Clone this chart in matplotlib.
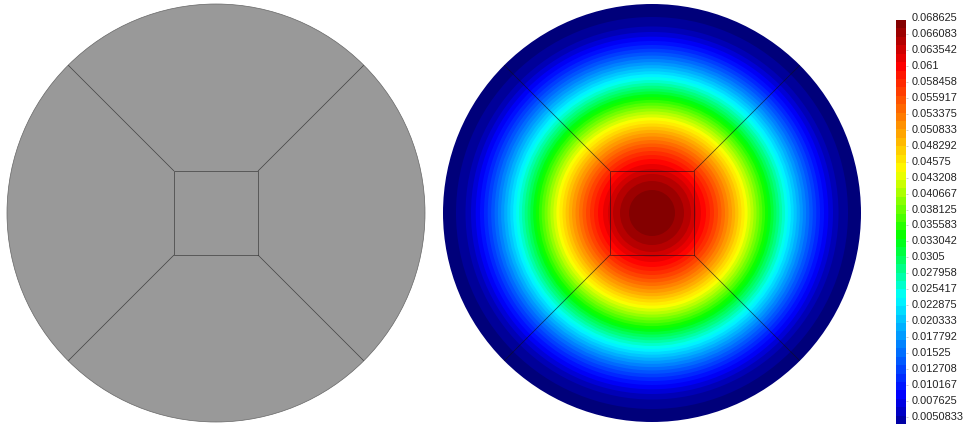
import numpy as np
import matplotlib
matplotlib.use("Agg")
import matplotlib.pyplot as plt
from matplotlib.patches import Circle, Rectangle
from matplotlib.colors import LinearSegmentedColormap

plt.rcParams['font.family'] = ['Liberation Sans', 'DejaVu Sans']

# Outer radius (in pixels of the reference) of each colour band, centre to rim
band_radii = [23, 32, 39, 44, 49, 54, 58, 62, 66, 69.5, 73, 76.5, 80, 83.2, 86.4, 89.5,
              92.6, 95.6, 98.6, 101.6, 104.5, 107.4, 110.3, 113.1, 116, 118.8, 121.6,
              124.4, 127.3, 130.1, 133, 135.9, 138.8, 141.7, 144.7, 147.8, 150.9, 154.1,
              157.4, 160.8, 164.3, 168, 172, 176.3, 181, 186.5, 196, 209]
tick_labels = ['0.068625', '0.066083', '0.063542', '0.061', '0.058458', '0.055917',
               '0.053375', '0.050833', '0.048292', '0.04575', '0.043208', '0.040667',
               '0.038125', '0.035583', '0.033042', '0.0305', '0.027958', '0.025417',
               '0.022875', '0.020333', '0.017792', '0.01525', '0.012708', '0.010167',
               '0.007625', '0.0050833']
peak_value = 0.068625
bar_floor = 0.0021
palette = [(0.00, (0, 0, 0.42)), (0.10, (0, 0, 1)), (0.335, (0, 1, 1)), (0.48, (0, 1, 0)),
           (0.64, (1, 1, 0)), (0.89, (1, 0, 0)), (1.00, (0.47, 0, 0))]

W, H = 964, 429
fig = plt.figure(figsize=(W / 100, H / 100), dpi=100, facecolor='white')
ax = fig.add_axes([0, 0, 1, 1])
ax.set_xlim(0, W)
ax.set_ylim(H, 0)
ax.axis('off')

cx_left, cx_right, cy, R, half = 216, 652, 213, 209, 42
cmap = LinearSegmentedColormap.from_list('plate', palette, N=512)
n = len(band_radii)


def mesh(cx, color, lw, alpha):
    ax.add_patch(Rectangle((cx - half, cy - half), 2 * half, 2 * half, fill=False,
                           edgecolor=color, lw=lw, alpha=alpha, zorder=5))
    d = R / np.sqrt(2)
    for sx in (-1, 1):
        for sy in (-1, 1):
            ax.plot([cx + sx * half, cx + sx * d], [cy + sy * half, cy + sy * d],
                    color=color, lw=lw, alpha=alpha, zorder=5, solid_capstyle='butt')


# Left: grey disc
ax.add_patch(Circle((cx_left, cy), R, facecolor='#999999', edgecolor='#666666', lw=0.5))
mesh(cx_left, '#333333', 0.55, 0.8)

# Right: colour bands, drawn from the rim inward
for i in range(n - 1, -1, -1):
    ax.add_patch(Circle((cx_right, cy), band_radii[i], lw=0,
                        facecolor=cmap(1 - (i + 0.5) / n), zorder=2))
mesh(cx_right, '#101020', 0.55, 0.7)

# Colour bar
cax = fig.add_axes([896 / W, 1 - 424 / H, 10 / W, 404 / H])
edges = np.linspace(bar_floor, peak_value, n + 1)
cax.pcolormesh([0, 1], edges, (edges[:-1] + edges[1:])[:, None] / 2,
               cmap=cmap, vmin=0, vmax=peak_value)
cax.set_xticks([])
for s in cax.spines.values():
    s.set_visible(False)
cax.set_ylim(bar_floor, peak_value)
span = peak_value - bar_floor
pos = [bar_floor + (424 - (18 + i * (417 - 18) / (len(tick_labels) - 1))) / 404 * span
       for i in range(len(tick_labels))]
for value_y, label in zip(pos, tick_labels):
    cax.annotate(label, xy=(1, value_y), xycoords=('axes fraction', 'data'),
                 xytext=(4.2, 0), textcoords='offset points', va='center', ha='left',
                 fontsize=7.9, color='#222222', annotation_clip=False)
cax.yaxis.tick_right()
cax.set_yticks([p for p in pos if p <= peak_value])
cax.set_yticklabels([])
cax.tick_params(axis='y', length=1.5, width=0.4, color='#aaaaaa')

fig.savefig('out.png', dpi=100)
